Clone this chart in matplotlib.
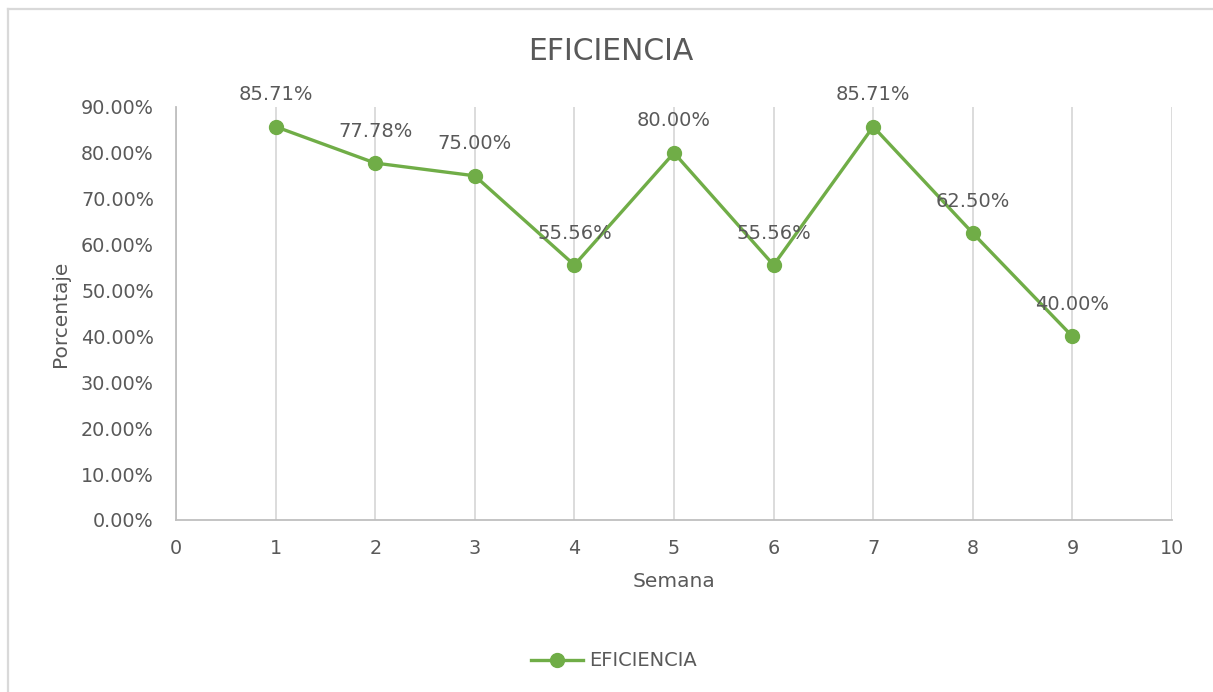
import matplotlib.pyplot as plt
from matplotlib.lines import Line2D
from matplotlib.ticker import FuncFormatter

# Eficiencia semanal
semanas = [1, 2, 3, 4, 5, 6, 7, 8, 9]
eficiencia = [0.8571, 0.7778, 0.75, 0.5556, 0.80, 0.5556, 0.8571, 0.625, 0.40]
x_ticks = list(range(0, 11))
y_ticks = [i / 10 for i in range(0, 10)]

VERDE = '#70AD47'
TEXTO = '#595959'
GRIS = '#D9D9D9'

plt.rcParams['font.family'] = ['DejaVu Sans']

fig = plt.figure(figsize=(12.13, 6.92), dpi=100, facecolor='w')
ax = fig.add_axes([0.1451, 0.2486, 0.8211, 0.5968])

ax.plot(semanas, eficiencia, color=VERDE, linewidth=2.4, marker='o',
        markersize=10, zorder=3)

for x, y in zip(semanas, eficiencia):
    ax.annotate(f'{y:.2%}', (x, y), xytext=(0, 23), textcoords='offset points',
                ha='center', va='center', fontsize=14, color=TEXTO)

ax.set_xlim(0, 10)
ax.set_ylim(0, 0.9)
ax.set_xticks(x_ticks)
ax.set_yticks(y_ticks)
ax.yaxis.set_major_formatter(FuncFormatter(lambda v, p: f'{v:.2%}'))
ax.tick_params(length=0, labelsize=13.8, labelcolor=TEXTO)
ax.tick_params(axis='y', pad=16)
ax.tick_params(axis='x', pad=14)

ax.grid(axis='x', color=GRIS, linewidth=1.3)
ax.set_axisbelow(True)
for s in ['top', 'right']:
    ax.spines[s].set_visible(False)
for s in ['left', 'bottom']:
    ax.spines[s].set_color('#BFBFBF')
    ax.spines[s].set_linewidth(1.3)

ax.set_xlabel('Semana', fontsize=14.5, color=TEXTO, labelpad=10)
ax.set_ylabel('Porcentaje', fontsize=14.5, color=TEXTO, labelpad=8)
fig.text(0.5037, 0.925, 'EFICIENCIA', ha='center', va='center',
         fontsize=21.5, color=TEXTO)

handle = Line2D([], [], color=VERDE, linewidth=2.4, marker='o', markersize=10)
fig.legend([handle], ['EFICIENCIA'], loc='center', bbox_to_anchor=(0.506, 0.045),
           frameon=False, fontsize=14, labelcolor=TEXTO, handlelength=2.7,
           handletextpad=0.3)

# marco del gráfico
fig.add_artist(Line2D([0.0066, 0.0066], [0, 0.987], color=GRIS, linewidth=1.6,
                      transform=fig.transFigure))
fig.add_artist(Line2D([0.0066, 1], [0.987, 0.987], color=GRIS, linewidth=1.6,
                      transform=fig.transFigure))

fig.savefig('out.png', dpi=100)
